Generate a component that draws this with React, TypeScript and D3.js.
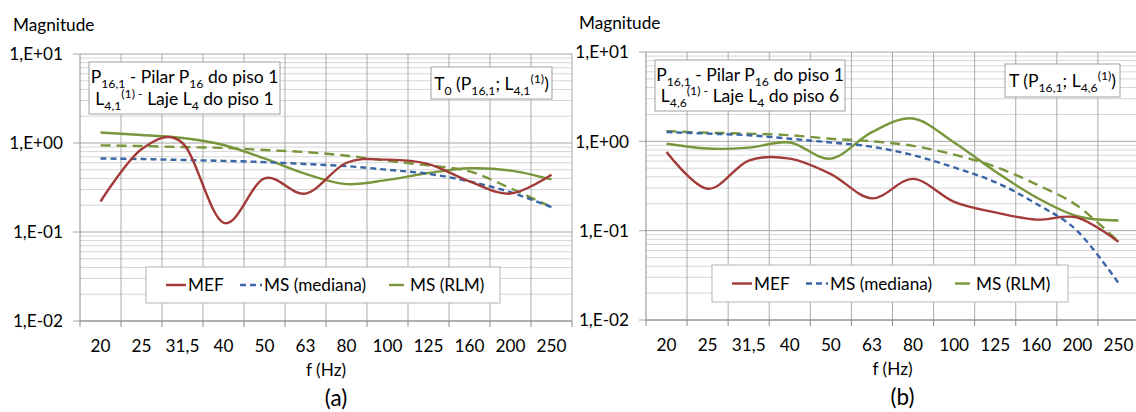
import React from "react";
import * as d3 from "d3";

const categories = ["20", "25", "31,5", "40", "50", "63", "80", "100", "125", "160", "200", "250"];
const yTickLabels = ["1,E-02", "1,E-01", "1,E+00", "1,E+01"];
const yTickValues = [0.01, 0.1, 1, 10];

// Chart (a)
const mefA = [0.22, 0.85, 1.0, 0.127, 0.40, 0.27, 0.60, 0.65, 0.58, 0.37, 0.27, 0.44];
const msMedianaA = [0.67, 0.66, 0.645, 0.63, 0.61, 0.58, 0.55, 0.50, 0.45, 0.37, 0.28, 0.19];
const msRlmDashA = [0.94, 0.925, 0.90, 0.88, 0.835, 0.79, 0.72, 0.63, 0.56, 0.48, 0.31, 0.19];
const msRlmSolidA = [1.31, 1.23, 1.14, 0.95, 0.67, 0.45, 0.345, 0.385, 0.46, 0.52, 0.49, 0.39];

// Chart (b)
const mefB = [0.76, 0.295, 0.61, 0.64, 0.43, 0.23, 0.38, 0.21, 0.16, 0.133, 0.14, 0.075];
const msMedianaB = [1.27, 1.22, 1.17, 1.07, 0.97, 0.87, 0.70, 0.51, 0.35, 0.20, 0.099, 0.026];
const msRlmDashB = [1.30, 1.25, 1.22, 1.17, 1.07, 1.0, 0.89, 0.71, 0.52, 0.33, 0.19, 0.075];
const msRlmSolidB = [0.94, 0.83, 0.85, 0.97, 0.64, 1.27, 1.8, 0.97, 0.46, 0.236, 0.145, 0.13];

const legendLabels = ["MEF", "MS (mediana)", "MS (RLM)"];

const RED = "#a13a38";
const BLUE = "#3a66a6";
const GREEN = "#78963b";
const FONT = "Lato, 'Open Sans', sans-serif";
const FS = 17.2;

type Seg = { t: string; s?: "sub" | "sup" };

function RichText({ x, y, segs, size }: { x: number; y: number; segs: Seg[]; size: number }) {
  const small = size * 0.7;
  let cur = 0;
  return (
    <text x={x} y={y} textAnchor="middle" fontFamily={FONT} fontSize={size} fill="#000">
      {segs.map((sg, i) => {
        const target = sg.s === "sub" ? size * 0.3 : sg.s === "sup" ? -size * 0.4 : 0;
        const dy = target - cur;
        cur = target;
        return (
          <tspan key={i} dy={dy} fontSize={sg.s ? small : size}>
            {sg.t}
          </tspan>
        );
      })}
    </text>
  );
}

type ChartProps = {
  left: number;
  right: number;
  top: number;
  bottom: number;
  mef: number[];
  med: number[];
  rlmDash: number[];
  rlmSolid: number[];
  box1: { x: number; y: number; w: number; h: number; l1: Seg[]; l2: Seg[]; b1: number; b2: number };
  box2: { x: number; y: number; w: number; h: number; l: Seg[]; b: number };
  legend: { x: number; y: number; w: number; h: number };
  label: string;
  magY: number;
};

function Chart(p: ChartProps) {
  const x = d3.scaleBand<string>().domain(categories).range([p.left, p.right]).padding(0);
  const bw = x.bandwidth();
  const cx = (i: number) => (x(categories[i]) as number) + bw / 2;
  const y = d3.scaleLog().domain([0.01, 10]).range([p.bottom, p.top]);
  const line = d3
    .line<number>()
    .x((_, i) => cx(i))
    .y((d) => y(d))
    .curve(d3.curveCatmullRom.alpha(0));

  const minor: number[] = [];
  [0.01, 0.1, 1].forEach((d) => {
    for (let k = 2; k <= 9; k++) minor.push(k * d);
  });
  const bounds = categories.map((c) => x(c) as number).concat([p.right]);
  const midX = (p.left + p.right) / 2;
  const lg = p.legend;

  return (
    <g>
      {minor.map((v, i) => (
        <line key={"m" + i} x1={p.left} x2={p.right} y1={y(v)} y2={y(v)} stroke="#d6d6d6" strokeWidth={1} />
      ))}
      {bounds.slice(1).map((b, i) => (
        <line key={"v" + i} x1={b} x2={b} y1={p.top} y2={p.bottom} stroke="#ababab" strokeWidth={1} />
      ))}
      {yTickValues.map((v, i) => (
        <line key={"M" + i} x1={p.left - 7} x2={p.right} y1={y(v)} y2={y(v)} stroke="#a6a6a6" strokeWidth={1} />
      ))}
      <line x1={p.left} x2={p.left} y1={p.top} y2={p.bottom} stroke="#8c8c8c" strokeWidth={1} />
      <line x1={p.left} x2={p.right} y1={p.bottom} y2={p.bottom} stroke="#8c8c8c" strokeWidth={1} />
      {bounds.map((b, i) => (
        <line key={"t" + i} x1={b} x2={b} y1={p.bottom} y2={p.bottom + 6} stroke="#8c8c8c" strokeWidth={1} />
      ))}
      {yTickValues.map((v, i) => (
        <text key={"yl" + i} x={p.left - 17} y={y(v)} dy="0.36em" textAnchor="end" fontFamily={FONT} fontSize={FS} fill="#000">
          {yTickLabels[i]}
        </text>
      ))}
      {categories.map((c, i) => (
        <text key={"xl" + i} x={cx(i)} y={p.bottom + 31} textAnchor="middle" fontFamily={FONT} fontSize={FS} fill="#000">
          {c}
        </text>
      ))}
      <text x={p.left - 67} y={p.magY} fontFamily={FONT} fontSize={FS} fill="#000">
        Magnitude
      </text>
      <text x={midX} y={p.bottom + 55} textAnchor="middle" fontFamily={FONT} fontSize={FS} fill="#000">
        f (Hz)
      </text>
      <text x={midX + 10} y={p.bottom + 85} textAnchor="middle" fontFamily={FONT} fontSize={22.5} fill="#000">
        {p.label}
      </text>

      <path d={line(p.rlmSolid) || ""} fill="none" stroke={GREEN} strokeWidth={2.4} />
      <path d={line(p.rlmDash) || ""} fill="none" stroke={GREEN} strokeWidth={2.4} strokeDasharray="10,6" />
      <path d={line(p.med) || ""} fill="none" stroke={BLUE} strokeWidth={2.4} strokeDasharray="6,4" />
      <path d={line(p.mef) || ""} fill="none" stroke={RED} strokeWidth={2.4} />

      <rect x={p.box1.x} y={p.box1.y} width={p.box1.w} height={p.box1.h} fill="#fff" stroke="#a0a0a0" strokeWidth={1} />
      <RichText x={p.box1.x + p.box1.w / 2} y={p.box1.b1} segs={p.box1.l1} size={17.5} />
      <RichText x={p.box1.x + p.box1.w / 2} y={p.box1.b2} segs={p.box1.l2} size={17.5} />

      <rect x={p.box2.x} y={p.box2.y} width={p.box2.w} height={p.box2.h} fill="#fff" stroke="#a0a0a0" strokeWidth={1} />
      <RichText x={p.box2.x + p.box2.w / 2} y={p.box2.b} segs={p.box2.l} size={17.5} />

      <rect x={lg.x} y={lg.y} width={lg.w} height={lg.h} fill="#fff" stroke="#b4b4b4" strokeWidth={1} />
      <line x1={lg.x + 20} x2={lg.x + 40} y1={lg.y + lg.h / 2} y2={lg.y + lg.h / 2} stroke={RED} strokeWidth={2.4} />
      <text x={lg.x + 42} y={lg.y + lg.h / 2} dy="0.36em" fontFamily={FONT} fontSize={FS} fill="#000">
        {legendLabels[0]}
      </text>
      <line x1={lg.x + 94} x2={lg.x + 116} y1={lg.y + lg.h / 2} y2={lg.y + lg.h / 2} stroke={BLUE} strokeWidth={2.4} strokeDasharray="6,4" />
      <text x={lg.x + 118} y={lg.y + lg.h / 2} dy="0.36em" fontFamily={FONT} fontSize={FS} fill="#000">
        {legendLabels[1]}
      </text>
      <line x1={lg.x + 243} x2={lg.x + 258} y1={lg.y + lg.h / 2} y2={lg.y + lg.h / 2} stroke={GREEN} strokeWidth={2.4} />
      <text x={lg.x + 264} y={lg.y + lg.h / 2} dy="0.36em" fontFamily={FONT} fontSize={FS} fill="#000">
        {legendLabels[2]}
      </text>
    </g>
  );
}

const boxA1L1: Seg[] = [{ t: "P" }, { t: "16,1", s: "sub" }, { t: " - Pilar P" }, { t: "16", s: "sub" }, { t: " do piso 1" }];
const boxA1L2: Seg[] = [{ t: "L" }, { t: "4,1", s: "sub" }, { t: "(1) -", s: "sup" }, { t: " Laje L" }, { t: "4", s: "sub" }, { t: " do piso 1" }];
const boxA2: Seg[] = [{ t: "T" }, { t: "0", s: "sub" }, { t: " (P" }, { t: "16,1", s: "sub" }, { t: "; L" }, { t: "4,1", s: "sub" }, { t: "(1)", s: "sup" }, { t: ")" }];
const boxB1L1: Seg[] = [{ t: "P" }, { t: "16,1", s: "sub" }, { t: " - Pilar P" }, { t: "16", s: "sub" }, { t: " do piso 1" }];
const boxB1L2: Seg[] = [{ t: "L" }, { t: "4,6", s: "sub" }, { t: "(1) -", s: "sup" }, { t: " Laje L" }, { t: "4", s: "sub" }, { t: " do piso 6" }];
const boxB2: Seg[] = [{ t: "T (P" }, { t: "16,1", s: "sub" }, { t: "; L" }, { t: "4,6", s: "sub" }, { t: "(1)", s: "sup" }, { t: ")" }];

export default function App() {
  return (
    <svg width={1136} height={412} style={{ position: "absolute", left: 0, top: 0, background: "#fff" }}>
      <rect x={0} y={0} width={1136} height={412} fill="#fff" />
      <Chart
        left={80}
        right={572}
        top={54}
        bottom={321}
        mef={mefA}
        med={msMedianaA}
        rlmDash={msRlmDashA}
        rlmSolid={msRlmSolidA}
        box1={{ x: 89, y: 62, w: 191, h: 52, l1: boxA1L1, l2: boxA1L2, b1: 83, b2: 105 }}
        box2={{ x: 431, y: 67, w: 121, h: 32, l: boxA2, b: 90 }}
        legend={{ x: 146, y: 267, w: 354, h: 36 }}
        label="(a)"
        magY={31}
      />
      <Chart
        left={646}
        right={1139}
        top={52}
        bottom={320}
        mef={mefB}
        med={msMedianaB}
        rlmDash={msRlmDashB}
        rlmSolid={msRlmSolidB}
        box1={{ x: 655, y: 60, w: 190, h: 51, l1: boxB1L1, l2: boxB1L2, b1: 81, b2: 102 }}
        box2={{ x: 1005, y: 64, w: 115, h: 33, l: boxB2, b: 87 }}
        legend={{ x: 712, y: 265, w: 356, h: 37 }}
        label="(b)"
        magY={29}
      />
    </svg>
  );
}
